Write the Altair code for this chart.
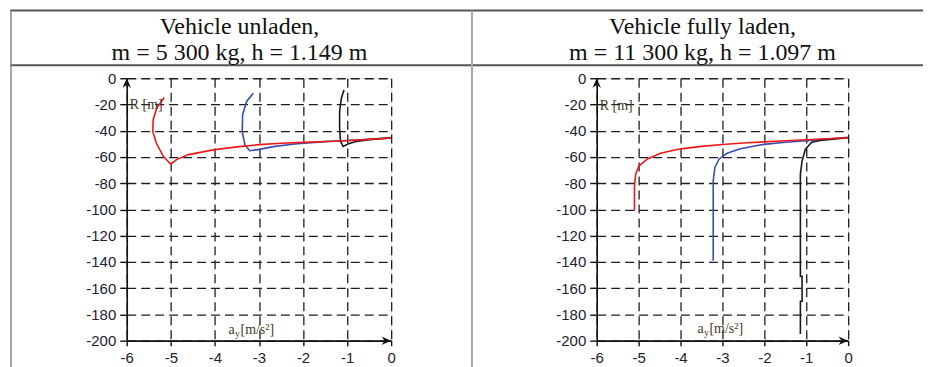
import altair as alt
import pandas as pd

# ---------------- data ----------------
X_DOMAIN = [-6, 0]
Y_DOMAIN = [-200, 0]
X_TICKS = [-6, -5, -4, -3, -2, -1, 0]
Y_TICKS = [-200, -180, -160, -140, -120, -100, -80, -60, -40, -20, 0]
SERIES = ["blue", "black", "red"]
COLORS = ["#3a4db0", "#1a1a1a", "#f01818"]

TITLE_LEFT = ["Vehicle unladen,", "m = 5 300 kg, h = 1.149 m"]
TITLE_RIGHT = ["Vehicle fully laden,", "m = 11 300 kg, h = 1.097 m"]
Y_LABEL = "R [m]"
X_LABEL = ["a", "y", "[m/s²]"]

# Vehicle unladen
U_RED_X = [-5.15, -5.32, -5.40, -5.41, -5.33, -5.17, -5.00, -4.87, -4.60, -4.00, -3.50, -3.00, -2.50, -2.00, -1.50, -1.00, -0.50, 0.00]
U_RED_Y = [-14.7, -22.8, -31.6, -40.5, -49.4, -59.5, -65.5, -62.0, -58.2, -54.4, -52.3, -50.6, -49.6, -48.9, -48.2, -47.6, -46.6, -45.6]
U_BLUE_X = [-3.13, -3.28, -3.37, -3.38, -3.32, -3.21, -3.02, -2.64, -2.19, -1.50, -1.00, -0.50, 0.00]
U_BLUE_Y = [-11.4, -17.7, -27.8, -40.5, -50.6, -55.2, -54.4, -51.9, -50.1, -48.3, -47.5, -46.5, -45.2]
U_BLACK_X = [-1.07, -1.13, -1.17, -1.17, -1.15, -1.09, -0.98, -0.79, -0.50, 0.00]
U_BLACK_Y = [-8.9, -15.2, -25.3, -38.0, -48.1, -51.9, -50.1, -48.1, -46.8, -45.5]

# Vehicle fully laden
L_RED_X = [-5.10, -5.10, -5.10, -5.07, -4.99, -4.79, -4.48, -4.00, -3.50, -3.00, -2.50, -2.00, -1.50, -1.00, -0.50, 0.00]
L_RED_Y = [-101.0, -92.0, -83.0, -73.0, -66.7, -61.5, -57.2, -53.8, -51.9, -50.5, -49.4, -48.5, -47.6, -46.9, -46.1, -45.4]
L_BLUE_X = [-3.22, -3.22, -3.22, -3.18, -3.08, -2.89, -2.57, -2.17, -2.00, -1.50, -1.00, -0.50, 0.00]
L_BLUE_Y = [-139.0, -110.0, -78.0, -68.0, -61.5, -57.2, -53.8, -51.3, -50.4, -48.8, -47.6, -46.3, -45.1]
L_BLACK_X = [-1.14, -1.14, -1.10, -1.10, -1.14, -1.14, -1.14, -1.10, -1.02, -0.87, -0.67, -0.30, 0.00]
L_BLACK_Y = [-195.0, -170.0, -170.0, -151.0, -151.0, -100.0, -73.0, -63.0, -54.0, -48.7, -47.4, -46.2, -45.4]


def frame(xs, ys, name):
    return pd.DataFrame({"x": xs, "y": ys, "i": list(range(len(xs))), "s": name})


ONE = pd.DataFrame({"k": [0]})
# arrow heads sit at the ends of the two axes (taken from the domains)
UP_ARROW = pd.DataFrame({"x": [X_DOMAIN[0]], "y": [Y_DOMAIN[1]]})
RIGHT_ARROW = pd.DataFrame({"x": [X_DOMAIN[1]], "y": [Y_DOMAIN[0]]})

LABEL_COLOR = "#23232e"
SERIF = "Liberation Serif"
SANS = "Liberation Sans"


def panel(curves, width, height, ylab_pos, xlab_pos, extra=None):
    xenc = alt.X(
        "x:Q",
        scale=alt.Scale(domain=X_DOMAIN, nice=False, zero=False),
        axis=alt.Axis(
            values=X_TICKS, title=None, grid=True, gridDash=[9, 5], gridColor="#1e1e1e",
            gridWidth=1.3, domainColor="#111111", domainWidth=1.6, tickColor="#111111",
            tickSize=5, tickWidth=1.4, labelPadding=5, labelFont=SANS, labelFontSize=15,
            labelColor=LABEL_COLOR, labelExpr="'' + datum.value", labelFlush=False,
            labelOverlap=False,
        ),
    )
    yenc = alt.Y(
        "y:Q",
        scale=alt.Scale(domain=Y_DOMAIN, nice=False, zero=False),
        axis=alt.Axis(
            values=Y_TICKS, title=None, grid=True, gridDash=[9, 5], gridColor="#1e1e1e",
            gridWidth=1.3, domainColor="#111111", domainWidth=1.6, tickColor="#111111",
            tickSize=7, tickWidth=1.4, labelPadding=4, labelFont=SANS, labelFontSize=15,
            labelColor=LABEL_COLOR, labelExpr="'' + datum.value", labelFlush=False,
            labelOverlap=False,
        ),
    )
    layers = []
    for df in curves:
        layers.append(
            alt.Chart(df).mark_line(strokeWidth=1.6, clip=False).encode(
                x=xenc, y=yenc,
                color=alt.Color("s:N", scale=alt.Scale(domain=SERIES, range=COLORS), legend=None),
                order="i:Q",
            )
        )
    layers.append(
        alt.Chart(UP_ARROW).mark_point(
            shape="M0,0 L-0.75,1.7 L0,1.15 L0.75,1.7 Z", filled=True, size=130,
            color="#111111", opacity=1,
        ).encode(x=xenc, y=yenc)
    )
    layers.append(
        alt.Chart(RIGHT_ARROW).mark_point(
            shape="M0,0 L-1.7,-0.75 L-1.15,0 L-1.7,0.75 Z", filled=True, size=130,
            color="#111111", opacity=1,
        ).encode(x=xenc, y=yenc)
    )
    # axis titles
    layers.append(
        alt.Chart(ONE).mark_text(align="left", baseline="middle", font=SERIF, fontSize=14,
                                 color="#4a3826").encode(
            x=alt.value(ylab_pos[0]), y=alt.value(ylab_pos[1]), text=alt.value(Y_LABEL))
    )
    layers.append(
        alt.Chart(ONE).mark_text(align="left", baseline="middle", font=SERIF, fontSize=14,
                                 color="#4a3826").encode(
            x=alt.value(xlab_pos[0]), y=alt.value(xlab_pos[1]), text=alt.value(X_LABEL[0]))
    )
    layers.append(
        alt.Chart(ONE).mark_text(align="left", baseline="middle", font=SERIF, fontSize=10,
                                 color="#4a3826").encode(
            x=alt.value(xlab_pos[0] + 6.5), y=alt.value(xlab_pos[1] + 4), text=alt.value(X_LABEL[1]))
    )
    layers.append(
        alt.Chart(ONE).mark_text(align="left", baseline="middle", font=SERIF, fontSize=14,
                                 color="#4a3826").encode(
            x=alt.value(xlab_pos[0] + 12), y=alt.value(xlab_pos[1]), text=alt.value(X_LABEL[2]))
    )
    if extra:
        layers.extend(extra)
    return alt.layer(*layers).properties(width=width, height=height)


# table decoration (layout only), relative to left plot origin
def hrule(x1, x2, y, color, w):
    return alt.Chart(ONE).mark_rule(color=color, strokeWidth=w).encode(
        x=alt.value(x1), x2=alt.value(x2), y=alt.value(y))


def vrule(x, y1, y2, color, w):
    return alt.Chart(ONE).mark_rule(color=color, strokeWidth=w).encode(
        x=alt.value(x), y=alt.value(y1), y2=alt.value(y2))


def htext(x, y, t):
    return alt.Chart(ONE).mark_text(align="center", baseline="alphabetic", font=SERIF,
                                    fontSize=24, color="#111111").encode(
        x=alt.value(x), y=alt.value(y), text=alt.value(t))


decor = [
    hrule(-117, 798, -68, "#555555", 2),
    hrule(-117, 798, -13, "#555555", 2),
    vrule(-116, -68, 291, "#8a8a8a", 1.5),
    vrule(346, -68, 291, "#a8a8a8", 2),
    htext(113, -44, TITLE_LEFT[0]),
    htext(113, -18, TITLE_LEFT[1]),
    htext(577, -44, TITLE_RIGHT[0]),
    htext(577, -18, TITLE_RIGHT[1]),
]

left = panel(
    [frame(U_BLUE_X, U_BLUE_Y, "blue"), frame(U_BLACK_X, U_BLACK_Y, "black"), frame(U_RED_X, U_RED_Y, "red")],
    265, 263, (3, 27), (102, 252), extra=decor,
)
right = panel(
    [frame(L_BLUE_X, L_BLUE_Y, "blue"), frame(L_BLACK_X, L_BLACK_Y, "black"), frame(L_RED_X, L_RED_Y, "red")],
    252, 263, (3, 28), (101, 251),
)

chart = alt.hconcat(left, right, spacing=206, bounds="flush").resolve_scale(
    x="independent", y="independent"
).properties(
    padding={"left": 0, "top": 0, "right": 0, "bottom": 0}
).configure_view(stroke=None).configure(background="white")

chart.save("out.html", embed_options={"renderer": "svg", "actions": False})
